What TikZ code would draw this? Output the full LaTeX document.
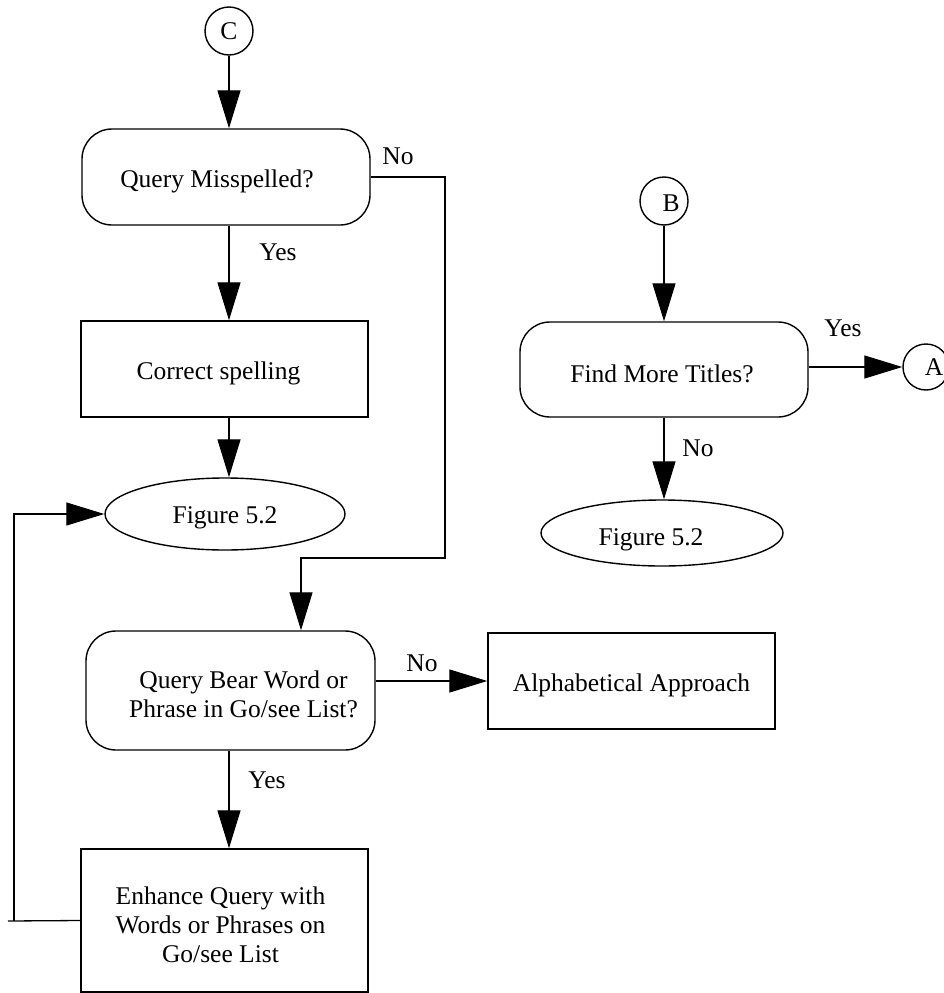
\documentclass[tikz,border=0pt]{standalone}
\usepackage{fontspec}
\setmainfont{Liberation Serif}
\usetikzlibrary{arrows.meta,shapes.geometric}
\begin{document}
\begin{tikzpicture}[x=1pt,y=-1pt,
  every node/.style={font=\fontsize{25.5}{29}\selectfont, inner sep=0pt},
  line/.style={line width=1.3pt},
  arr/.style={line, -{Triangle[length=38pt,width=23pt]}},
  decision/.style={draw, line width=1.4pt, rounded corners=30pt, align=center},
  process/.style={draw, line width=1.4pt, align=center},
  terminal/.style={draw, line width=1.4pt, ellipse},
  connector/.style={draw, line width=1.4pt, circle, minimum size=48pt},
  inside/.style={align=center, yshift=-4pt}]
\useasboundingbox (0,0) rectangle (944,993);

% left column
\node[connector] (C) at (229,31) {C};
\node[decision, minimum width=288pt, minimum height=96pt,
      label={[inside, xshift=-9pt]center:Query Misspelled?}] (qm) at (226,177) {};
\node[process, minimum width=287pt, minimum height=96pt,
      label={[inside, xshift=-6pt]center:Correct spelling}] (cs) at (224.5,369) {};
\node[terminal, minimum width=240pt, minimum height=72pt,
      label={[inside]center:Figure 5.2}] (fig1) at (225,514) {};
\node[decision, minimum width=289pt, minimum height=119pt,
      label={[inside, xshift=13pt]center:{Query Bear Word or\\Phrase in Go/see List?}}] (qb) at (230.5,690.5) {};
\node[process, minimum width=287pt, minimum height=96pt,
      label={[inside]center:Alphabetical Approach}] (alpha) at (631.5,681) {};
\node[process, minimum width=287pt, minimum height=143pt,
      label={[inside, xshift=-4pt]center:{Enhance Query with\\Words or Phrases on\\Go/see List}}] (enh) at (224.5,920.5) {};

% right column
\node[connector, label={[xshift=7pt, yshift=-2pt]center:B}] (B) at (664,201) {};
\node[decision, minimum width=288pt, minimum height=95pt,
      label={[inside, xshift=-2pt]center:Find More Titles?}] (fb) at (664,369.5) {};
\node[connector, minimum size=46pt, label={[xshift=8pt]center:A}] (A) at (926,367) {};
\node[terminal, minimum width=242pt, minimum height=66pt,
      label={[inside, xshift=-11pt, yshift=-3pt]center:Figure 5.2}] (fig2) at (662,533) {};

% helper points for the routed lines
\coordinate (nx) at (445,558);
\coordinate (drop) at (301,558);
\coordinate (loopstub) at (8,921);
\coordinate (loopup) at (14,921);

% connectors, left column
\draw[arr] (C.south) -- (C.south |- qm.north);
\draw[arr] (C.south |- qm.south) -- (C.south |- cs.north);
\draw[arr] (C.south |- cs.south) -- (C.south |- fig1.north);
\draw[arr] (qm.east) -| (nx) -- (drop) -- (drop |- qb.north);
\draw[arr] (alpha.west -| qb.east) -- (alpha.west);
\draw[arr] (C.south |- qb.south) -- (C.south |- enh.north);
\draw[line] (enh.west) -- (loopstub);
\draw[arr] (loopup) |- (fig1.west);

% connectors, right column
\draw[arr] (B.south) -- (B.south |- fb.north);
\draw[arr] (fb.east |- A.west) -- (A.west);
\draw[arr] (B.south |- fb.south) -- (B.south |- fig2.north);

% branch labels
\node (lno1) at (398,156) {No};
\node (lyes1) at (278,252) {Yes};
\node (lno2) at (422,663) {No};
\node (lyes2) at (267,780) {Yes};
\node (lyes3) at (843,328) {Yes};
\node (lno3) at (698,448) {No};
\end{tikzpicture}
\end{document}
